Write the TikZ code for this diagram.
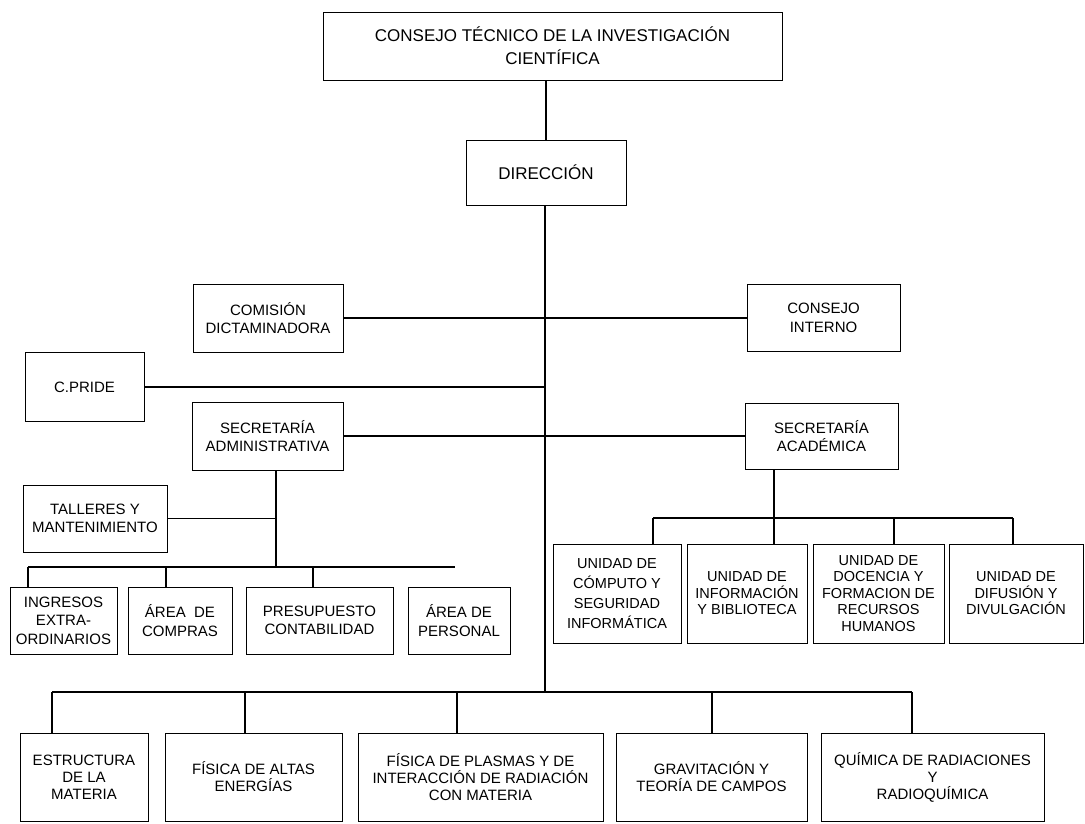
\documentclass[tikz,border=0pt]{standalone}
\usepackage{fontspec}
\setmainfont{Liberation Sans}
\begin{document}
\begin{tikzpicture}[x=1pt,y=-1pt,
    caja/.style={draw,line width=0.9pt,align=center,inner sep=0pt,font=\fontsize{15}{18.5}\selectfont},
    cajaalta/.style={caja,font=\fontsize{17}{23}\selectfont},
    cajaunidad/.style={caja,font=\fontsize{14.5}{16.5}\selectfont,minimum height=99pt},
    cajadepto/.style={caja,font=\fontsize{15}{17}\selectfont,minimum height=88pt},
    linea/.style={line width=1.2pt}]
    \useasboundingbox (0,0) rectangle (1085,824);

    \node[cajaalta,minimum width=459pt,minimum height=68pt](consejo) at (552.5,46){CONSEJO TÉCNICO DE LA INVESTIGACIÓN\\CIENTÍFICA};
    \node[cajaalta,minimum width=160pt,minimum height=65pt](direccion) at (546,172.5){DIRECCIÓN};

    \node[caja,minimum width=150pt,minimum height=68pt](comision) at (268,318){COMISIÓN\\DICTAMINADORA};
    \node[caja,minimum width=153pt,minimum height=67pt](cinterno) at (823.5,318){CONSEJO\\INTERNO};
    \node[caja,minimum width=119pt,minimum height=69pt](cpride) at (84.5,387){C.PRIDE};
    \node[caja,minimum width=151pt,minimum height=68pt](secadm) at (267.5,436){SECRETARÍA\\ADMINISTRATIVA};
    \node[caja,minimum width=153pt,minimum height=66pt](secacad) at (821.5,436){SECRETARÍA\\ACADÉMICA};

    \node[caja,minimum width=144pt,minimum height=67pt](talleres) at (95,518.5){TALLERES Y\\MANTENIMIENTO};
    \node[caja,minimum width=107pt,minimum height=67pt](ingresos) at (63.5,620.5){INGRESOS\\EXTRA-\\ORDINARIOS};
    \node[caja,minimum width=104pt,minimum height=67pt](compras) at (180,620.5){ÁREA\ \ DE\\COMPRAS};
    \node[caja,minimum width=147pt,minimum height=67pt](presupuesto) at (319.5,620.5){PRESUPUESTO\\CONTABILIDAD};
    \node[caja,minimum width=102pt,minimum height=67pt](personal) at (459,620.5){ÁREA DE\\PERSONAL};

    \node[cajaunidad,minimum width=128pt,font=\fontsize{14.5}{20}\selectfont](ucomputo) at (617,593.5){UNIDAD DE\\CÓMPUTO Y\\SEGURIDAD\\INFORMÁTICA};
    \node[cajaunidad,minimum width=120pt](uinformacion) at (747,593.5){UNIDAD DE\\INFORMACIÓN\\Y BIBLIOTECA};
    \node[cajaunidad,minimum width=131pt](udocencia) at (878.5,593.5){UNIDAD DE\\DOCENCIA Y\\FORMACION DE\\RECURSOS\\HUMANOS};
    \node[cajaunidad,minimum width=134pt](udifusion) at (1016,593.5){UNIDAD DE\\DIFUSIÓN Y\\DIVULGACIÓN};

    \node[cajadepto,minimum width=128pt](estructura) at (84,777){ESTRUCTURA\\DE LA\\MATERIA};
    \node[cajadepto,minimum width=177pt](altas) at (253.5,777){FÍSICA DE ALTAS\\ENERGÍAS};
    \node[cajadepto,minimum width=245pt](plasmas) at (480.5,777){FÍSICA DE PLASMAS Y DE\\INTERACCIÓN DE RADIACIÓN\\CON MATERIA};
    \node[cajadepto,minimum width=191pt](gravitacion) at (711.5,777){GRAVITACIÓN Y\\TEORÍA DE CAMPOS};
    \node[cajadepto,minimum width=223pt](quimica) at (932.5,777){QUÍMICA DE RADIACIONES\\Y\\RADIOQUÍMICA};

    \coordinate(ejebajo) at (545,692);
    \coordinate(admbus) at (276,567);
    \coordinate(acadbus) at (774,518);

    \draw[linea](direccion.north)--(direccion.north|-consejo.south);
    \draw[linea](direccion.south-|ejebajo)--(ejebajo);

    \draw[linea](comision.east)--(cinterno.west);
    \draw[linea](cpride.east)--(cpride.east-|ejebajo);
    \draw[linea](secadm.east)--(secacad.west);

    \draw[linea](secadm.south-|admbus)--(admbus);
    \draw[linea](talleres.east)--(talleres.east-|admbus);
    \draw[linea](28,567)--(455,567);
    \draw[linea](28,567)--(28,567|-ingresos.north);
    \draw[linea](166,567)--(166,567|-compras.north);
    \draw[linea](313,567)--(313,567|-presupuesto.north);

    \draw[linea](secacad.south-|acadbus)--(acadbus|-uinformacion.north);
    \draw[linea](653,518)--(1013,518);
    \draw[linea](653,518)--(653,518|-ucomputo.north);
    \draw[linea](894,518)--(894,518|-udocencia.north);
    \draw[linea](1013,518)--(1013,518|-udifusion.north);

    \draw[linea](52,692)--(912,692);
    \draw[linea](52,692)--(52,692|-estructura.north);
    \draw[linea](245,692)--(245,692|-altas.north);
    \draw[linea](457,692)--(457,692|-plasmas.north);
    \draw[linea](712,692)--(712,692|-gravitacion.north);
    \draw[linea](912,692)--(912,692|-quimica.north);
\end{tikzpicture}
\end{document}
